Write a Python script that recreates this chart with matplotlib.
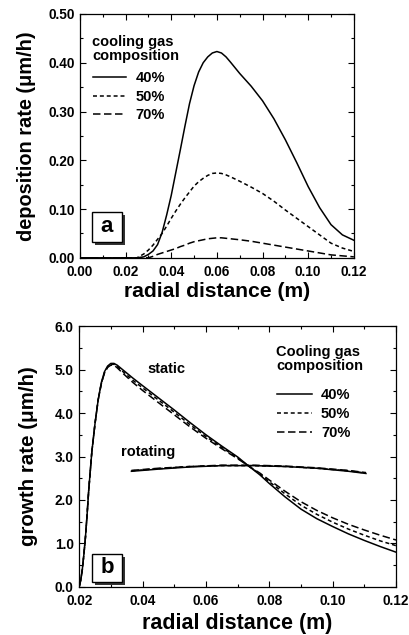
import matplotlib
matplotlib.use("Agg")
import matplotlib.pyplot as plt
from matplotlib.patches import Rectangle
from matplotlib.ticker import MultipleLocator, FormatStrFormatter

plt.rcParams['font.family'] = ['Liberation Sans', 'DejaVu Sans']
plt.rcParams['font.weight'] = 'bold'

# ---- panel a data: deposition rate (um/h) vs radial distance (m) ----
xa = [0.0, 0.01, 0.02, 0.025, 0.028, 0.030, 0.032, 0.034, 0.036, 0.038, 0.040, 0.042,
      0.044, 0.046, 0.048, 0.050, 0.052, 0.054, 0.056, 0.058, 0.060, 0.062, 0.064,
      0.066, 0.070, 0.075, 0.080, 0.085, 0.090, 0.095, 0.100, 0.105, 0.110, 0.115, 0.120]
a40 = [0, 0, 0, 0.0, 0.002, 0.007, 0.014, 0.027, 0.052, 0.088, 0.128, 0.175,
       0.222, 0.270, 0.316, 0.353, 0.381, 0.400, 0.412, 0.420, 0.423, 0.420, 0.412,
       0.401, 0.378, 0.352, 0.322, 0.285, 0.242, 0.195, 0.146, 0.103, 0.068, 0.047, 0.036]
a50 = [0, 0, 0, 0.0, 0.008, 0.016, 0.026, 0.038, 0.050, 0.065, 0.081, 0.096,
       0.110, 0.123, 0.135, 0.147, 0.156, 0.163, 0.169, 0.173, 0.174, 0.173, 0.170,
       0.166, 0.157, 0.145, 0.132, 0.116, 0.098, 0.081, 0.064, 0.047, 0.030, 0.020, 0.013]
a70 = [0, 0, 0, 0.0, 0.0, 0.0, 0.003, 0.007, 0.010, 0.013, 0.016, 0.019,
       0.023, 0.026, 0.030, 0.033, 0.035, 0.037, 0.039, 0.040, 0.041, 0.041, 0.040,
       0.039, 0.037, 0.034, 0.030, 0.026, 0.022, 0.018, 0.014, 0.010, 0.006, 0.004, 0.002]
labels = ['40%', '50%', '70%']

# ---- panel b data: growth rate (um/h), static and rotating ----
xs = [0.02, 0.0205, 0.021, 0.0215, 0.022, 0.0225, 0.023, 0.024, 0.025, 0.026, 0.027,
      0.028, 0.029, 0.030, 0.031, 0.032, 0.034, 0.037, 0.04, 0.045, 0.05, 0.055, 0.06,
      0.065, 0.07, 0.0735, 0.077, 0.08, 0.085, 0.09, 0.095, 0.10, 0.105, 0.11, 0.115, 0.12]
s40 = [0.0, 0.15, 0.4, 0.75, 1.15, 1.65, 2.2, 3.1, 3.75, 4.3, 4.7,
       4.95, 5.08, 5.14, 5.14, 5.10, 4.98, 4.80, 4.63, 4.35, 4.07, 3.78, 3.50,
       3.24, 2.99, 2.78, 2.58, 2.38, 2.07, 1.79, 1.57, 1.39, 1.22, 1.07, 0.93, 0.80]
s50 = [0.0, 0.15, 0.4, 0.75, 1.15, 1.65, 2.2, 3.1, 3.75, 4.3, 4.68,
       4.93, 5.06, 5.12, 5.12, 5.07, 4.94, 4.75, 4.58, 4.30, 4.02, 3.73, 3.46,
       3.21, 2.97, 2.78, 2.60, 2.42, 2.14, 1.88, 1.67, 1.49, 1.33, 1.19, 1.06, 0.95]
s70 = [0.0, 0.15, 0.4, 0.75, 1.15, 1.65, 2.2, 3.1, 3.75, 4.3, 4.67,
       4.92, 5.05, 5.10, 5.10, 5.04, 4.90, 4.70, 4.52, 4.24, 3.96, 3.68, 3.42,
       3.18, 2.95, 2.78, 2.62, 2.46, 2.20, 1.96, 1.76, 1.59, 1.44, 1.31, 1.19, 1.08]
xr = [0.0365, 0.045, 0.055, 0.065, 0.075, 0.085, 0.095, 0.105, 0.1105]
r40 = [2.66, 2.71, 2.76, 2.79, 2.79, 2.77, 2.73, 2.66, 2.61]
r50 = [2.67, 2.72, 2.77, 2.79, 2.79, 2.77, 2.73, 2.67, 2.62]
r70 = [2.68, 2.73, 2.77, 2.80, 2.80, 2.78, 2.74, 2.68, 2.63]

LW = 1.1
styles = ['-', (0, (2.6, 1.9)), (0, (4.9, 2.3))]

fig = plt.figure(figsize=(4.10, 6.35), dpi=100)
axa = fig.add_axes([0.195, 0.594, 0.668, 0.384])
axb = fig.add_axes([0.193, 0.0756, 0.773, 0.411])

# ---- panel a ----
for ys, ls, lab in zip([a40, a50, a70], styles, labels):
    axa.plot(xa, ys, color='black', lw=LW, linestyle=ls, label=lab)
axa.set_xlim(0, 0.12)
axa.set_ylim(0, 0.5)
axa.xaxis.set_major_locator(MultipleLocator(0.02))
axa.xaxis.set_minor_locator(MultipleLocator(0.01))
axa.yaxis.set_major_locator(MultipleLocator(0.1))
axa.yaxis.set_minor_locator(MultipleLocator(0.05))
axa.xaxis.set_major_formatter(FormatStrFormatter('%.2f'))
axa.yaxis.set_major_formatter(FormatStrFormatter('%.2f'))
axa.set_xlabel('radial distance (m)', fontsize=15.2, fontweight='bold', labelpad=2.5)
axa.set_ylabel('deposition rate (\u03bcm/h)', fontsize=14.4, fontweight='bold', labelpad=9)
axa.text(0.044, 0.914, 'cooling gas\ncomposition', transform=axa.transAxes, fontsize=10.5,
         fontweight='bold', ha='left', va='top', linespacing=1.05)
axa.legend(loc='upper left', frameon=False, fontsize=10.5, handlelength=2.3,
           handletextpad=0.65, labelspacing=0.3, borderpad=0, borderaxespad=0,
           bbox_to_anchor=(0.047, 0.765))

# ---- panel b ----
for ys, ls, lab in zip([s40, s50, s70], styles, labels):
    axb.plot(xs, ys, color='black', lw=LW, linestyle=ls, label=lab)
for ys, ls in zip([r40, r50, r70], styles):
    axb.plot(xr, ys, color='black', lw=LW, linestyle=ls)
axb.set_xlim(0.02, 0.12)
axb.set_ylim(0, 6)
axb.xaxis.set_major_locator(MultipleLocator(0.02))
axb.xaxis.set_minor_locator(MultipleLocator(0.01))
axb.yaxis.set_major_locator(MultipleLocator(1.0))
axb.yaxis.set_minor_locator(MultipleLocator(0.5))
axb.xaxis.set_major_formatter(FormatStrFormatter('%.2f'))
axb.yaxis.set_major_formatter(FormatStrFormatter('%.1f'))
axb.set_xlabel('radial distance (m)', fontsize=15.5, fontweight='bold', labelpad=3.5)
axb.set_ylabel('growth rate (\u03bcm/h)', fontsize=14.8, fontweight='bold', labelpad=12)
axb.text(0.621, 0.928, 'Cooling gas\ncomposition', transform=axb.transAxes, fontsize=10.5,
         fontweight='bold', ha='left', va='top', linespacing=1.05)
axb.legend(loc='upper left', frameon=False, fontsize=10.5, handlelength=2.4,
           handletextpad=0.6, labelspacing=0.33, borderpad=0, borderaxespad=0,
           bbox_to_anchor=(0.625, 0.762))
axb.text(0.0474, 5.01, 'static', fontsize=10.5, fontweight='bold', ha='center', va='center')
axb.text(0.0419, 3.11, 'rotating', fontsize=10.5, fontweight='bold', ha='center', va='center')

boxes = [(axa, 'a', (0.045, 0.064), (0.107, 0.125), 16),
         (axb, 'b', (0.042, 0.02), (0.093, 0.106), 16)]
for ax, letter, pos, size, fs in boxes:
    ax.tick_params(which='both', direction='in', top=True, right=True, labelsize=9.8, width=0.8)
    ax.tick_params(which='major', length=4, pad=4)
    ax.tick_params(which='minor', length=2)
    ax.tick_params(axis='x', which='major', pad=5)
    for lab in ax.get_xticklabels() + ax.get_yticklabels():
        lab.set_fontweight('bold')
    for sp in ax.spines.values():
        sp.set_linewidth(0.9)
    w, h = size
    dx = 3.0 / (ax.bbox.width)
    dy = 3.0 / (ax.bbox.height)
    ax.add_patch(Rectangle((pos[0] + dx, pos[1] - dy), w, h, transform=ax.transAxes,
                           facecolor='#333333', edgecolor='none', zorder=5))
    ax.add_patch(Rectangle(pos, w, h, transform=ax.transAxes, facecolor='white',
                           edgecolor='black', lw=1.0, zorder=6))
    ax.text(pos[0] + w / 2, pos[1] + h / 2, letter, transform=ax.transAxes, fontsize=fs,
            fontweight='bold', ha='center', va='center', zorder=7)

fig.savefig('out.png', dpi=100)
